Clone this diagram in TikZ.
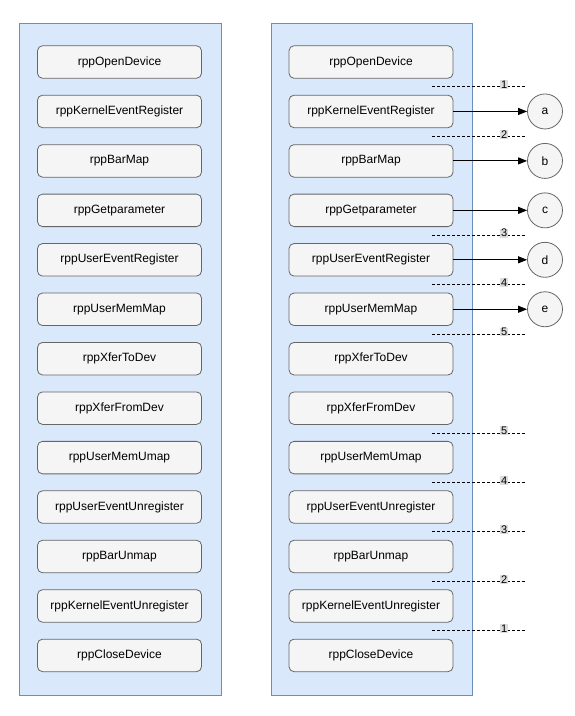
\documentclass[tikz,border=0pt]{standalone}
\usepackage{fontspec}
\setmainfont{Liberation Sans}
\usetikzlibrary{arrows.meta}
\definecolor{contfill}{HTML}{DAE8FC}
\definecolor{contline}{HTML}{6C8EBF}
\definecolor{boxfill}{HTML}{F5F5F5}
\definecolor{boxline}{HTML}{666666}
\tikzset{
  container/.style={draw=contline, fill=contfill, line width=0.8pt},
  fn/.style={draw=boxline, fill=boxfill, rounded corners=5pt, minimum width=164pt, minimum height=32.5pt, inner sep=0pt, font=\fontsize{12}{14}\selectfont, line width=0.8pt},
  ev/.style={circle, draw=boxline, fill=boxfill, minimum size=35pt, inner sep=0pt, font=\fontsize{12}{14}\selectfont, line width=0.8pt},
  conn/.style={-{Triangle[length=9pt,width=7pt]}, line width=0.9pt, black},
  sep/.style={dashed, dash pattern=on 3pt off 2pt, line width=0.8pt, black},
  num/.style={fill=boxfill!80!gray, inner sep=0.6pt, font=\fontsize{11}{12}\selectfont, pos=0.775, yshift=2pt}
}
\begin{document}
\begin{tikzpicture}[x=1pt,y=-1pt]
\useasboundingbox (0,0) rectangle (574,716);
\node[container, minimum width=202pt, minimum height=672pt, inner sep=0pt, anchor=north west] (leftc) at (18.5,22.5) {};
\node[container, minimum width=201pt, minimum height=672pt, inner sep=0pt, anchor=north west] (rightc) at (271,22.5) {};
\foreach \t [count=\i] in {rppOpenDevice,rppKernelEventRegister,rppBarMap,rppGetparameter,rppUserEventRegister,rppUserMemMap,rppXferToDev,rppXferFromDev,rppUserMemUmap,rppUserEventUnregister,rppBarUnmap,rppKernelEventUnregister,rppCloseDevice}{
  \node[fn] (L\i) at (119.5,{62+(\i-1)*49.45}) {\t};
  \node[fn] (R\i) at (371,{62+(\i-1)*49.45}) {\t};
}
\foreach \c [count=\j] in {a,b,c,d,e}{
  \pgfmathtruncatemacro{\k}{\j+1}
  \node[ev] (E\j) at (545,{62+\j*49.45}) {\c};
  \draw[conn] (R\k.east) -- (E\j.west);
}
\foreach \n/\y [count=\m] in {1/86.7,2/136.2,3/235.1,4/284.5,5/334.0,5/432.9,4/482.3,3/531.8,2/581.2,1/630.6}{
  \coordinate (S\m) at (432,\y);
  \coordinate (T\m) at (525,\y);
  \draw[sep] (S\m) -- node[num] {\n} (T\m);
}
\end{tikzpicture}
\end{document}
